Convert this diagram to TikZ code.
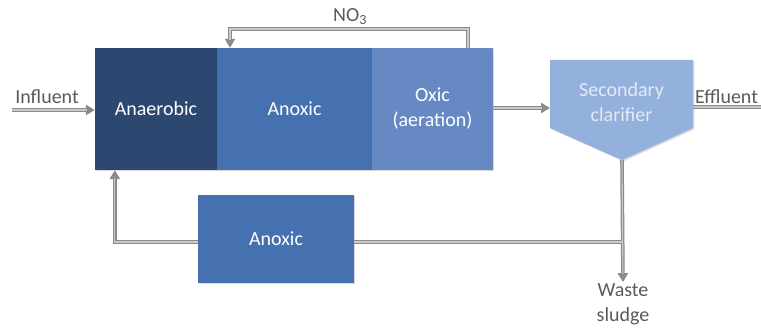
\documentclass[tikz,border=0pt]{standalone}
\usepackage{fontspec}
\setmainfont{Carlito}
\usetikzlibrary{arrows.meta,shadows,calc}

\definecolor{anaerfill}{HTML}{2D4870}
\definecolor{anoxfill}{HTML}{4571B0}
\definecolor{oxicfill}{HTML}{6688C3}
\definecolor{clarfill}{HTML}{94B0DC}
\definecolor{clartext}{HTML}{E2EAF6}
\definecolor{pipeout}{HTML}{8A8A8A}
\definecolor{pipein}{HTML}{C9C9C9}
\definecolor{labeltext}{HTML}{5A5A5A}

\tikzset{
  tank/.style={rectangle, draw=none, text=white, align=center,
    font=\fontsize{20}{25}\selectfont, inner sep=0pt,
    drop shadow={shadow xshift=1.3pt, shadow yshift=-1.3pt, opacity=0.3}},
  flowlabel/.style={text=labeltext, align=center, inner sep=1pt,
    font=\fontsize{20}{25}\selectfont},
  pipe/.style={draw=pipeout, line width=3.6pt,
    postaction={draw=pipein, line width=1.1pt}},
  pipearrow/.style={draw=pipeout, line width=3.6pt,
    -{Triangle[length=9pt,width=10pt]},
    postaction={draw=pipein, line width=1.1pt, arrows=-, shorten >=8pt}},
}

\begin{document}
\begin{tikzpicture}[x=1pt, y=-1pt]
\useasboundingbox (0,0) rectangle (761,329);

% reactor train
\node[tank, fill=anaerfill, minimum width=122pt, minimum height=122pt]
  (anaer) at (156,109) {Anaerobic};
\node[tank, fill=anoxfill, minimum width=155pt, minimum height=122pt]
  (anox) at (294.5,109) {Anoxic};
\node[tank, fill=oxicfill, minimum width=121pt, minimum height=122pt]
  (oxic) at (432.5,109) {Oxic\\(aeration)};

% secondary clarifier (pentagon pointing down)
\coordinate (clarNW) at (550,60);
\coordinate (clarNE) at (693,60);
\coordinate (clarSE) at (693,128);
\coordinate (clarbot) at (622,160);
\coordinate (clarSW) at (550,128);
\fill[clarfill, drop shadow={shadow xshift=1.3pt, shadow yshift=-1.3pt, opacity=0.3}]
  (clarNW) -- (clarNE) -- (clarSE) -- (clarbot) -- (clarSW) -- cycle;
\node[align=center, text=clartext, font=\fontsize{20}{25}\selectfont]
  (clar) at (621.5,102.5) {Secondary\\clarifier};

% second anoxic tank on the return line
\node[tank, fill=anoxfill, minimum width=156pt, minimum height=88pt]
  (anox2) at (276,239) {Anoxic};

% labels
\node[flowlabel, anchor=base] (infl) at (47,103) {Influent};
\node[flowlabel, anchor=base west] (effl) at (694,103) {Effluent};
\node[flowlabel] (no3) at (350,17) {NO\textsubscript{3}};
\node[flowlabel] (waste) at (623,304) {Waste\\sludge};

% flow lines
\coordinate (inflow) at (12,110);
\coordinate (outflow) at (761,107);
\coordinate (no3y) at (0,29);
\coordinate (junc) at (622,242);
\coordinate (no3from) at ([xshift=35.5pt]oxic.north);
\coordinate (no3to) at ([xshift=-64.5pt]anox.north);

\draw[pipearrow] (inflow) -- (inflow -| anaer.west);
\draw[pipearrow] (oxic.east |- 0,108) -- (clarSW |- 0,108);
\draw[pipe] (clarNE |- outflow) -- (outflow);
\draw[pipearrow] (no3from) -- (no3from |- no3y) -- (no3to |- no3y) -- (no3to);
\draw[pipearrow] (clarbot) -- (waste.north);
\draw[pipe] (junc) -- (anox2.east |- junc);
\draw[pipearrow] (anox2.west |- junc) -| ([xshift=20pt]anaer.south west);
\end{tikzpicture}
\end{document}
